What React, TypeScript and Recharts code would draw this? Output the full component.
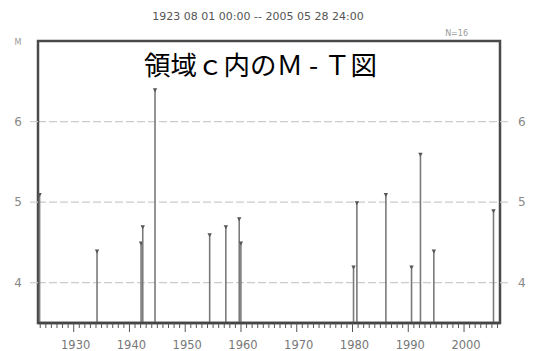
import React from 'react';
import {
  ComposedChart,
  Bar,
  XAxis,
  YAxis,
  CartesianGrid,
  ReferenceArea,
} from 'recharts';

// Event dates (decimal year) and magnitudes
const eventYears = [
  1923.9, 1934.2, 1942.1, 1942.4, 1944.6, 1954.4, 1957.3, 1959.7,
  1960.0, 1980.2, 1980.8, 1986.0, 1990.6, 1992.2, 1994.6, 2005.3,
];
const magnitudes = [
  5.1, 4.4, 4.5, 4.7, 6.4, 4.6, 4.7, 4.8,
  4.5, 4.2, 5.0, 5.1, 4.2, 5.6, 4.4, 4.9,
];

const magTicks = [4, 5, 6];
const decadeLabels = [1930, 1940, 1950, 1960, 1970, 1980, 1990, 2000];
const firstYearTick = 1924;
const lastYearTick = 2006;
const timeDomain: [number, number] = [1923.6, 2006.45];
const magDomain: [number, number] = [3.5, 7];

const periodText = '1923 08 01 00:00 -- 2005 05 28 24:00';
const countText = 'N=16';
const axisName = 'M';
const chartTitle = '領域ｃ内のＭ - Ｔ図';

const yearTicks: number[] = [];
for (let y = firstYearTick; y <= lastYearTick; y++) yearTicks.push(y);

const data = eventYears.map((t, i) => ({ t, m: magnitudes[i] }));

const W = 545;
const H = 351;
const FONT = '"DejaVu Sans", sans-serif';

const Stem = (props: any) => {
  const { x, y, width, height } = props;
  if (height == null || isNaN(height)) return null;
  const cx = x + width / 2;
  return (
    <g>
      <line x1={cx} x2={cx} y1={y} y2={y + height} stroke="#7a7a7a" strokeWidth={1.6} />
      <path d={`M${cx - 2.2},${y - 1} L${cx + 2.2},${y - 1} L${cx},${y + 3} Z`} fill="#555" />
    </g>
  );
};

const YearTick = (props: any) => {
  const { x, y, payload } = props;
  const v = payload.value as number;
  const major = decadeLabels.includes(v);
  return (
    <g>
      <line x1={x} x2={x} y1={y} y2={y + (major ? 9 : 5)} stroke="#555" strokeWidth={1} />
      {major && (
        <text x={x + 2} y={y + 26} textAnchor="middle" fontFamily={FONT} fontSize={11.5} fill="#777">
          {v}
        </text>
      )}
    </g>
  );
};

export default function App() {
  return (
    <div style={{ position: 'absolute', left: 0, top: 0, width: W, height: H, background: '#fff' }}>
      <ComposedChart width={W} height={H} data={data} margin={{ top: 41, right: 0, bottom: 0, left: 0 }}>
        <CartesianGrid
          yAxisId="l"
          vertical={false}
          stroke="#cccccc"
          strokeDasharray="8 3"
          strokeWidth={1.2}
        />
        <XAxis
          dataKey="t"
          type="number"
          domain={timeDomain}
          ticks={yearTicks}
          interval={0}
          allowDataOverflow
          height={28}
          tickSize={0}
          tickMargin={0}
          tickLine={false}
          axisLine={{ stroke: '#444', strokeWidth: 2.5 }}
          tick={<YearTick />}
        />
        <YAxis
          yAxisId="l"
          orientation="left"
          domain={magDomain}
          ticks={magTicks}
          allowDataOverflow
          width={38}
          tickSize={8}
          tickMargin={8}
          axisLine={false}
          tickLine={{ stroke: '#cccccc', strokeWidth: 1.2 }}
          tick={{ fill: '#888', fontSize: 12, fontFamily: FONT }}
        />
        <YAxis
          yAxisId="r"
          orientation="right"
          domain={magDomain}
          ticks={magTicks}
          allowDataOverflow
          width={45}
          tickSize={8}
          tickMargin={10}
          axisLine={false}
          tickLine={{ stroke: '#cccccc', strokeWidth: 1.2 }}
          tick={{ fill: '#888', fontSize: 12, fontFamily: FONT }}
        />
        <ReferenceArea
          yAxisId="l"
          x1={timeDomain[0]}
          x2={timeDomain[1]}
          y1={magDomain[0]}
          y2={magDomain[1]}
          fill="none"
          stroke="#4a4a4a"
          strokeWidth={2.5}
        />
        <Bar
          yAxisId="l"
          dataKey="m"
          barSize={4}
          shape={<Stem />}
          isAnimationActive={false}
        />
      </ComposedChart>
      <svg width={W} height={H} style={{ position: 'absolute', left: 0, top: 0, pointerEvents: 'none' }}>
        <text x={258} y={20} textAnchor="middle" fontFamily={FONT} fontSize={11} fill="#555">
          {periodText}
        </text>
        <text x={468} y={36} textAnchor="end" fontFamily={FONT} fontSize={8} fill="#999">
          {countText}
        </text>
        <text x={18} y={45} textAnchor="middle" fontFamily={FONT} fontSize={8} fill="#999">
          {axisName}
        </text>
        <text
          x={260.5}
          y={75}
          textAnchor="middle"
          fontFamily='"Noto Sans CJK JP", sans-serif'
          fontSize={26.5}
          fill="#000"
        >
          {chartTitle}
        </text>
      </svg>
    </div>
  );
}
